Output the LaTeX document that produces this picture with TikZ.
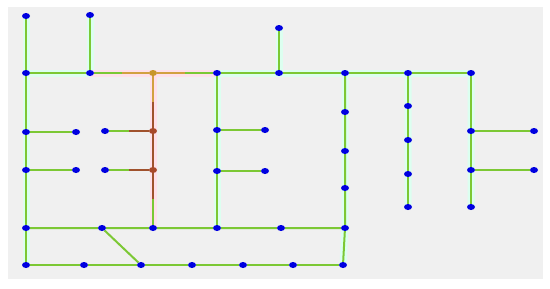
\documentclass[tikz,border=0pt]{standalone}
\usetikzlibrary{calc,backgrounds,shapes.geometric}
\definecolor{bgc}{HTML}{F0F0F0}
\definecolor{gedge}{HTML}{7CC834}
\definecolor{oedge}{HTML}{D2A040}
\definecolor{bedge}{HTML}{A0522D}
\definecolor{nblue}{HTML}{0000E0}
\definecolor{norange}{HTML}{C8962A}
\definecolor{nbrown}{HTML}{A8482A}
\definecolor{halog}{HTML}{DCFFF0}
\definecolor{halop}{HTML}{FFE0EA}
\tikzset{
  vtx/.style={ellipse,fill=nblue,draw=none,minimum width=8pt,minimum height=6pt,inner sep=0pt},
  vto/.style={vtx,fill=norange},
  vtb/.style={vtx,fill=nbrown},
  eg/.style={draw=gedge,line width=2pt},
  eo/.style={draw=oedge,line width=2pt},
  eb/.style={draw=bedge,line width=2pt},
  hg/.style={draw=halog,line width=7pt},
  hp/.style={draw=halop,line width=7pt},
}
\begin{document}
\begin{tikzpicture}[x=1pt,y=-1pt]
\useasboundingbox (0,0) rectangle (550,289);
% nodes
\node[vtx] (a1) at (26,16) {};
\node[vtx] (a2) at (90,15) {};
\node[vtx] (a3) at (279,28) {};
\node[vtx] (r1) at (26,73) {};
\node[vtx] (r2) at (90,73) {};
\node[vto] (o) at (153,73) {};
\node[vtx] (r4) at (217,73) {};
\node[vtx] (r5) at (279,73) {};
\node[vtx] (r6) at (345,73) {};
\node[vtx] (r7) at (408,73) {};
\node[vtx] (r8) at (471,73) {};
\node[vtx] (b1) at (26,132) {};
\node[vtx] (b2) at (76,132) {};
\node[vtx] (b3) at (105,131) {};
\node[vtb] (x1) at (153,131) {};
\node[vtx] (b5) at (217,130) {};
\node[vtx] (b6) at (265,130) {};
\node[vtx] (c1) at (26,170) {};
\node[vtx] (c2) at (76,170) {};
\node[vtx] (c3) at (105,170) {};
\node[vtb] (x2) at (153,170) {};
\node[vtx] (c5) at (217,171) {};
\node[vtx] (c6) at (265,171) {};
\node[vtx] (m1) at (345,112) {};
\node[vtx] (m2) at (345,151) {};
\node[vtx] (m3) at (345,188) {};
\node[vtx] (n1) at (408,106) {};
\node[vtx] (n2) at (408,140) {};
\node[vtx] (n3) at (408,174) {};
\node[vtx] (n4) at (408,207) {};
\node[vtx] (p1) at (471,131) {};
\node[vtx] (p2) at (534,131) {};
\node[vtx] (p3) at (471,170) {};
\node[vtx] (p4) at (534,170) {};
\node[vtx] (p5) at (471,207) {};
\node[vtx] (d1) at (26,228) {};
\node[vtx] (d2) at (102,228) {};
\node[vtx] (d3) at (153,228) {};
\node[vtx] (d4) at (217,228) {};
\node[vtx] (d5) at (281,228) {};
\node[vtx] (d6) at (345,228) {};
\node[vtx] (e1) at (26,265) {};
\node[vtx] (e2) at (84,265) {};
\node[vtx] (e3) at (141,265) {};
\node[vtx] (e4) at (192,265) {};
\node[vtx] (e5) at (243,265) {};
\node[vtx] (e6) at (293,265) {};
\node[vtx] (e7) at (343,265) {};
\begin{scope}[on background layer]
\fill[white] (0,0) rectangle (550,289);
\fill[bgc] (8,7) rectangle (543,279);
% halos
\path[hg] (a1.center)--(r1.center)--(b1.center)--(c1.center)--(d1.center)--(e1.center);
\path[hg] (a2.center)--(r2.center) (a3.center)--(r5.center);
\path[hg] (r4.center)--(b5.center)--(c5.center)--(d4.center);
\path[hg] (r6.center)--(d6.center)--(e7.center) (r7.center)--(n4.center) (r8.center)--(p5.center);
\path[hg] (r1.center)--(r2.center) (r4.center)--(r8.center);
\path[hp] (r2.center)--(r4.center) (o.center)--(d3.center);
% green edges
\path[eg] (a1)--(r1) (a2)--(r2) (a3)--(r5);
\path[eg] (r1)--(r2) (r4)--(r5) (r5)--(r6) (r6)--(r7) (r7)--(r8);
\path[eg] (r1)--(b1) (b1)--(c1) (c1)--(d1) (d1)--(e1) (b1)--(b2) (c1)--(c2);
\path[eg] (r4)--(b5) (b5)--(c5) (c5)--(d4) (b5)--(b6) (c5)--(c6);
\path[eg] (d1)--(d2) (d2)--(d3) (d3)--(d4) (d4)--(d5) (d5)--(d6) (d2)--(e3);
\path[eg] (e1)--(e2) (e2)--(e3) (e3)--(e4) (e4)--(e5) (e5)--(e6) (e6)--(e7);
\path[eg] (r6)--(m1) (m1)--(m2) (m2)--(m3) (m3)--(d6) (d6)--(e7);
\path[eg] (r7)--(n1) (n1)--(n2) (n2)--(n3) (n3)--(n4);
\path[eg] (r8)--(p1) (p1)--(p3) (p3)--(p5) (p1)--(p2) (p3)--(p4);
% split edges
\path[eg] (r2)--($(r2)!.5!(o)$);
\path[eo] ($(r2)!.5!(o)$)--(o);
\path[eo] (o)--($(o)!.5!(r4)$);
\path[eg] ($(o)!.5!(r4)$)--(r4);
\path[eo] (o)--($(o)!.5!(x1)$);
\path[eb] ($(o)!.5!(x1)$)--(x1);
\path[eb] (x1)--(x2);
\path[eb] (x2)--($(x2)!.5!(d3)$);
\path[eg] ($(x2)!.5!(d3)$)--(d3);
\path[eg] (b3)--($(b3)!.5!(x1)$);
\path[eb] ($(b3)!.5!(x1)$)--(x1);
\path[eg] (c3)--($(c3)!.5!(x2)$);
\path[eb] ($(c3)!.5!(x2)$)--(x2);
\end{scope}
\end{tikzpicture}
\end{document}
